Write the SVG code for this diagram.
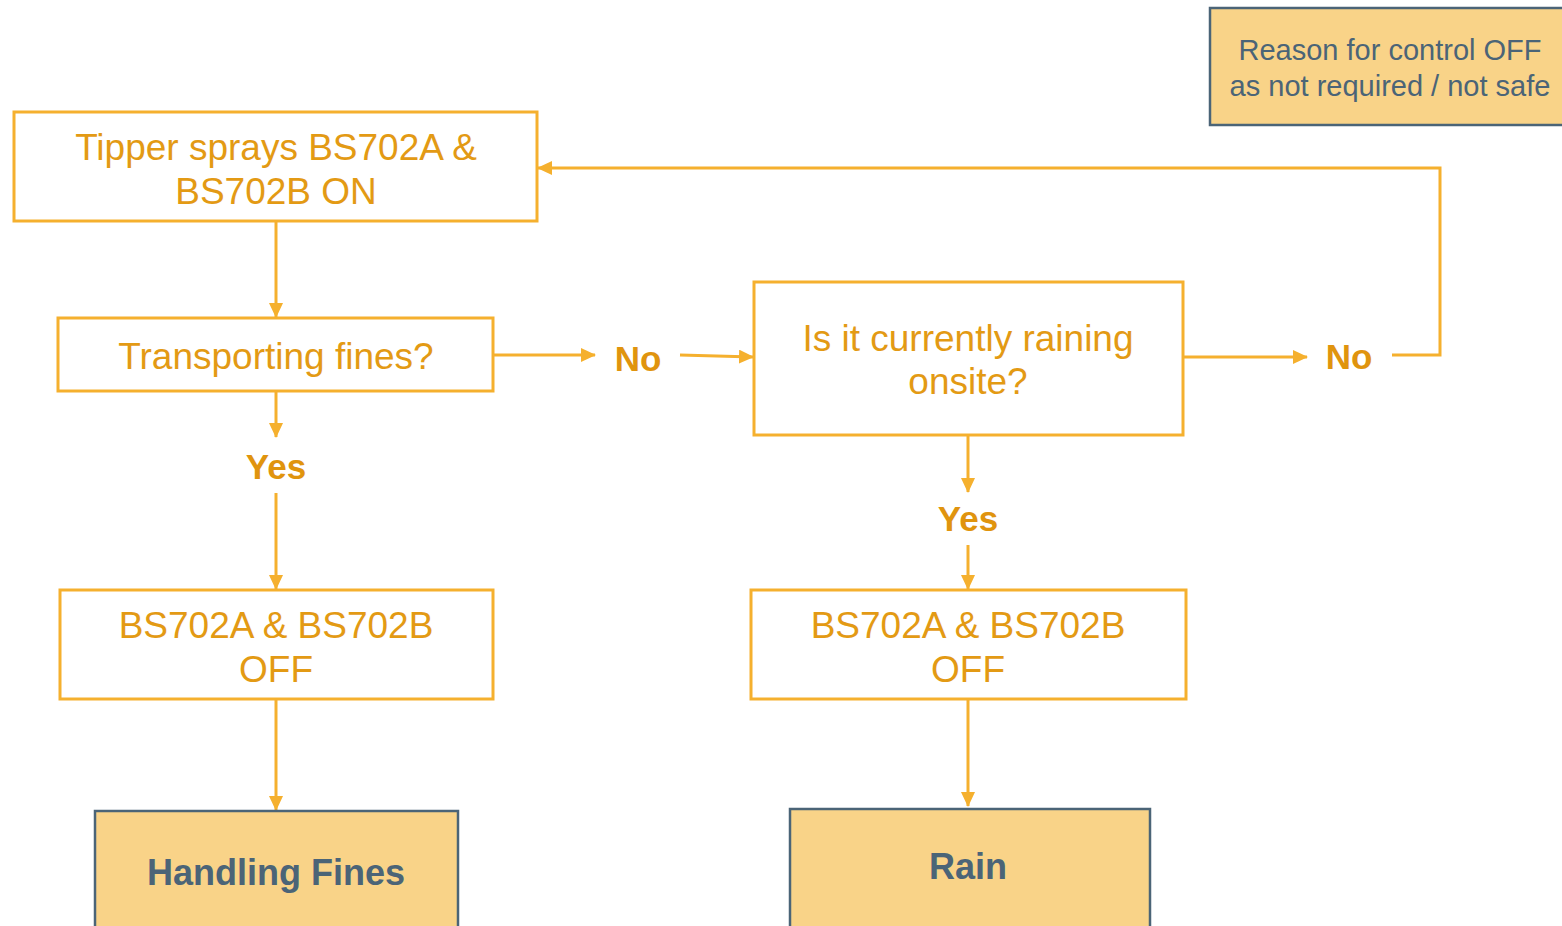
<svg xmlns="http://www.w3.org/2000/svg" width="1562" height="926" viewBox="0 0 1562 926">
  <defs>
    <marker id="arrow" markerUnits="userSpaceOnUse" markerWidth="16" markerHeight="14" refX="14" refY="7" orient="auto">
      <path d="M0,0 L15,7 L0,14 Z" fill="#F5B02E"/>
    </marker>
    <style>
      .box { fill: #FFFFFF; stroke: #F5B02E; stroke-width: 3; }
      .tag { fill: #F9D388; stroke: #4B6477; stroke-width: 2.5; }
      .txt { font-family: "Liberation Sans", Arial, sans-serif; font-size: 37px; fill: #E39A14; text-anchor: middle; }
      .lbl { font-family: "Liberation Sans", Arial, sans-serif; font-size: 35px; font-weight: bold; fill: #E0940E; text-anchor: middle; }
      .tagtxt { font-family: "Liberation Sans", Arial, sans-serif; fill: #4B6477; text-anchor: middle; }
      .wire { fill: none; stroke: #F5B02E; stroke-width: 3; }
    </style>
  </defs>
  <rect width="1562" height="926" fill="#FFFFFF"/>

  <!-- legend -->
  <g id="legend">
    <rect class="tag" x="1210" y="8" width="360" height="117"/>
    <text class="tagtxt" x="1390" y="60" font-size="29">Reason for control OFF</text>
    <text class="tagtxt" x="1390" y="96" font-size="29">as not required / not safe</text>
  </g>

  <!-- connectors -->
  <g id="connectors">
    <path class="wire" d="M276,221 V317" marker-end="url(#arrow)"/>
    <path class="wire" d="M493,355 H595" marker-end="url(#arrow)"/>
    <path class="wire" d="M680,355 L753,357" marker-end="url(#arrow)"/>
    <path class="wire" d="M1183,357 H1307" marker-end="url(#arrow)"/>
    <path class="wire" d="M1392,355 H1440 V168 H538" marker-end="url(#arrow)"/>
    <path class="wire" d="M276,391 V437" marker-end="url(#arrow)"/>
    <path class="wire" d="M276,493 V589" marker-end="url(#arrow)"/>
    <path class="wire" d="M276,699 V810" marker-end="url(#arrow)"/>
    <path class="wire" d="M968,435 V492" marker-end="url(#arrow)"/>
    <path class="wire" d="M968,545 V589" marker-end="url(#arrow)"/>
    <path class="wire" d="M968,699 V806" marker-end="url(#arrow)"/>
    <text class="lbl" x="638" y="371">No</text>
    <text class="lbl" x="1349" y="369">No</text>
    <text class="lbl" x="276" y="479">Yes</text>
    <text class="lbl" x="968" y="531">Yes</text>
  </g>

  <g id="sprays-on">
    <rect class="box" x="14" y="112" width="523" height="109"/>
    <text class="txt" x="276" y="160">Tipper sprays BS702A &amp;</text>
    <text class="txt" x="276" y="204">BS702B ON</text>
  </g>

  <g id="transporting-fines">
    <rect class="box" x="58" y="318" width="435" height="73"/>
    <text class="txt" x="276" y="369">Transporting fines?</text>
  </g>

  <g id="raining">
    <rect class="box" x="754" y="282" width="429" height="153"/>
    <text class="txt" x="968" y="351">Is it currently raining</text>
    <text class="txt" x="968" y="394">onsite?</text>
  </g>

  <g id="off-fines">
    <rect class="box" x="60" y="590" width="433" height="109"/>
    <text class="txt" x="276" y="638">BS702A &amp; BS702B</text>
    <text class="txt" x="276" y="682">OFF</text>
  </g>

  <g id="off-rain">
    <rect class="box" x="751" y="590" width="435" height="109"/>
    <text class="txt" x="968" y="638">BS702A &amp; BS702B</text>
    <text class="txt" x="968" y="682">OFF</text>
  </g>

  <g id="handling-fines">
    <rect class="tag" x="95" y="811" width="363" height="130"/>
    <text class="tagtxt" x="276" y="885" font-size="36" font-weight="bold">Handling Fines</text>
  </g>

  <g id="rain">
    <rect class="tag" x="790" y="809" width="360" height="130"/>
    <text class="tagtxt" x="968" y="879" font-size="36" font-weight="bold">Rain</text>
  </g>
</svg>
